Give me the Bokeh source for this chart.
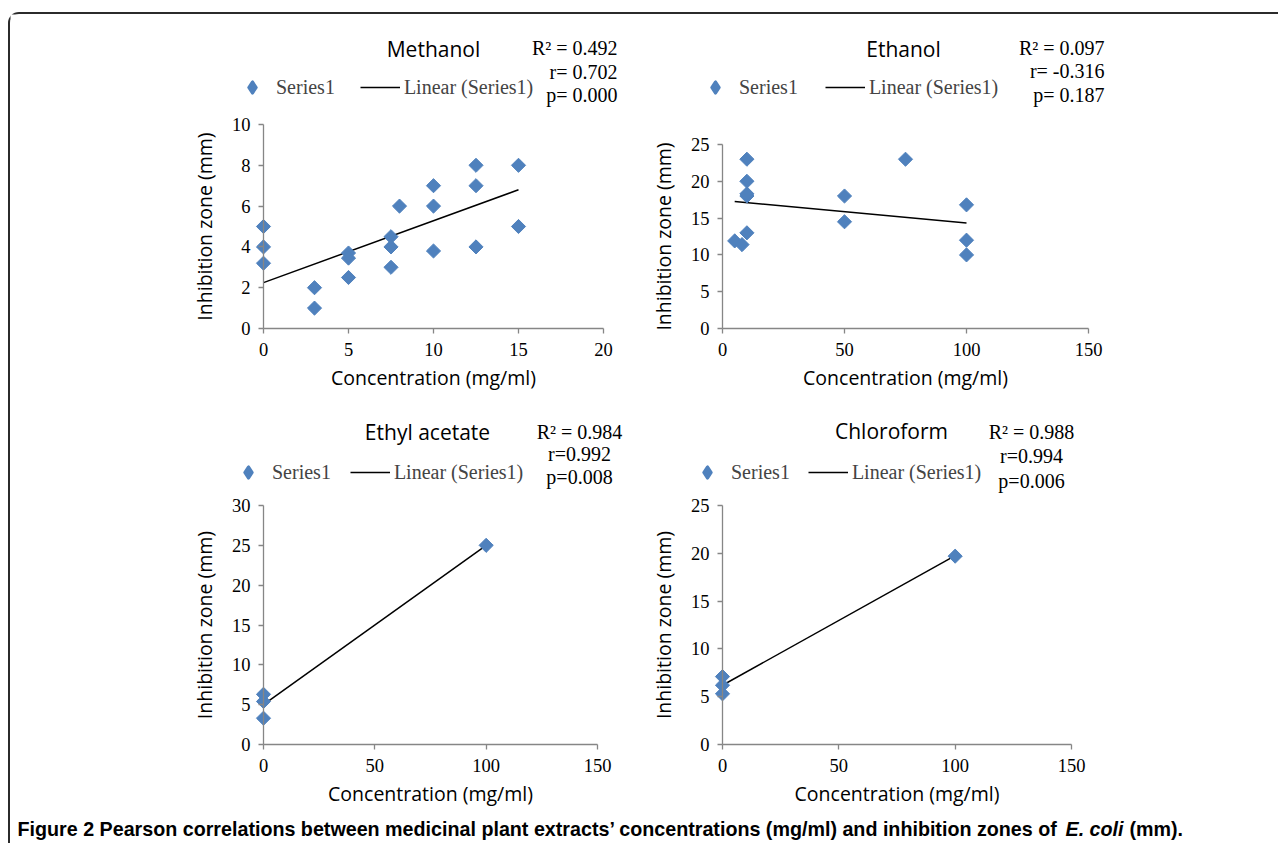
import numpy as np
from bokeh.plotting import figure
from bokeh.layouts import column, row
from bokeh.models import Range1d, FixedTicker, Label, Legend, LegendItem
from bokeh.embed import file_html
from bokeh.resources import INLINE

# ---------------- data ----------------
methanol_x = [0, 0, 0, 3, 3, 5, 5, 5, 7.5, 7.5, 7.5, 8, 10, 10, 10, 12.5, 12.5, 12.5, 15, 15]
methanol_y = [5, 4, 3.2, 2, 1, 3.7, 3.45, 2.5, 4.5, 4, 3, 6, 7, 6, 3.8, 8, 7, 4, 8, 5]
methanol_trend_x = [0, 15]
methanol_trend_y = [2.25, 6.8]
methanol_xticks = [0, 5, 10, 15, 20]
methanol_yticks = [0, 2, 4, 6, 8, 10]
methanol_stats = ["R\u00b2 = 0.492", "r= 0.702", "p= 0.000"]

ethanol_x = [5, 8, 10, 10, 10, 10, 10, 50, 50, 75, 100, 100, 100]
ethanol_y = [11.9, 11.4, 13, 18, 18.3, 20, 23, 18, 14.5, 23, 16.8, 12, 10]
ethanol_trend_x = [5, 100]
ethanol_trend_y = [17.25, 14.35]
ethanol_xticks = [0, 50, 100, 150]
ethanol_yticks = [0, 5, 10, 15, 20, 25]
ethanol_stats = ["R\u00b2 = 0.097", "r= -0.316", "p= 0.187"]

ethyl_x = [0, 0, 0, 100]
ethyl_y = [6.3, 5.4, 3.3, 25]
ethyl_trend_x = [0, 100]
ethyl_trend_y = [5.0, 25.0]
ethyl_xticks = [0, 50, 100, 150]
ethyl_yticks = [0, 5, 10, 15, 20, 25, 30]
ethyl_stats = ["R\u00b2 = 0.984", "r=0.992", "p=0.008"]

chloro_x = [0, 0, 0, 100]
chloro_y = [7.1, 6.2, 5.3, 19.7]
chloro_trend_x = [0, 100]
chloro_trend_y = [6.2, 19.75]
chloro_xticks = [0, 50, 100, 150]
chloro_yticks = [0, 5, 10, 15, 20, 25]
chloro_stats = ["R\u00b2 = 0.988", "r=0.994", "p=0.006"]

titles = ["Methanol", "Ethanol", "Ethyl acetate", "Chloroform"]
x_label = "Concentration (mg/ml)"
y_label = "Inhibition zone (mm)"
legend_labels = ["Series1", "Linear (Series1)"]
caption_main = "Figure 2 Pearson correlations between medicinal plant extracts\u2019 concentrations (mg/ml) and inhibition zones of"
caption_ital = "E. coli"
caption_end = "(mm)."

# ---------------- styles ----------------
BLUE = "#4F81BD"
AXIS = "#868686"
SERIF = "Liberation Serif"
SANS = "Open Sans"
GH = 28  # legend glyph height


def make_panel(xs, ys, tx, ty, xticks, yticks, title, stats, cfg):
    ox, oy, W, H = cfg["box"]          # canvas box on the page (frame == canvas)
    a0, a1 = cfg["xpix"]               # page x of x=0 and x=xmax
    b0, b1 = cfg["ypix"]               # page y of y=0 and y=ymax
    xmax, ymax = xticks[-1], yticks[-1]
    kx = (a1 - a0) / xmax
    ky = (b0 - b1) / ymax
    x0 = -(a0 - ox) / kx
    y0 = -(oy + H - b0) / ky
    p = figure(width=W, height=H, title=None,
               x_range=Range1d(x0, x0 + W / kx), y_range=Range1d(y0, y0 + H / ky),
               output_backend="svg", toolbar_location=None, min_border=0)
    p.outline_line_color = None
    p.grid.visible = False
    p.xaxis.ticker = FixedTicker(ticks=xticks)
    p.yaxis.ticker = FixedTicker(ticks=yticks)
    p.xaxis.bounds = (0, xmax)
    p.yaxis.bounds = (0, ymax)
    p.xaxis.fixed_location = 0
    p.yaxis.fixed_location = 0
    for ax in (p.xaxis, p.yaxis):
        ax.axis_line_color = AXIS
        ax.axis_line_width = 1.3
        ax.major_tick_line_color = AXIS
        ax.major_tick_line_width = 1.3
        ax.major_tick_out = 5
        ax.major_tick_in = 0
        ax.minor_tick_line_color = None
        ax.major_label_text_font = SERIF
        ax.major_label_text_font_size = "18.5px"
        ax.major_label_text_color = "black"
        ax.axis_label_text_font = SANS
        ax.axis_label_text_font_size = "19.5px"
        ax.axis_label_text_font_style = "normal"
        ax.axis_label_text_color = "black"
    p.xaxis.axis_label = x_label
    p.yaxis.axis_label = y_label
    p.xaxis.major_label_standoff = 9
    p.yaxis.major_label_standoff = 8
    p.xaxis.axis_label_standoff = 5
    p.yaxis.axis_label_standoff = 11

    line_r = p.line(tx, ty, line_color="black", line_width=1.5)
    p.scatter(xs, ys, marker="square", angle=np.pi / 4, size=10,
              fill_color=BLUE, line_color=BLUE)
    # zero-size copy of the series used only as the legend key
    # (legend keys are always drawn unrotated, so a diamond marker is used there)
    key_r = p.scatter(xs, ys, marker="diamond", size=0, fill_color=BLUE,
                      line_color=BLUE, line_width=3, line_join="round")

    def sx(px):
        return px - ox

    def sy(py):
        return oy + H - py

    lx, lcy = cfg["leg"]
    leg = Legend(items=[LegendItem(label=legend_labels[0], renderers=[key_r]),
                        LegendItem(label=legend_labels[1], renderers=[line_r])],
                 location=(sx(lx), sy(lcy + GH / 2)), orientation="horizontal",
                 glyph_width=40, glyph_height=GH, label_standoff=4,
                 spacing=cfg["spacing"], padding=0, margin=0,
                 border_line_color=None, background_fill_alpha=0,
                 label_text_font=SERIF, label_text_font_size="20px",
                 label_height=20)
    p.add_layout(leg)

    tpx, tpy = cfg["title"]
    p.add_layout(Label(x=sx(tpx), y=sy(tpy), x_units="screen", y_units="screen", text=title,
                       text_font=SANS, text_font_size="21px", text_align="center",
                       text_baseline="middle", text_color="black"))
    for s, py in zip(stats, cfg["stats_y"]):
        p.add_layout(Label(x=sx(cfg["stats_x"]), y=sy(py), x_units="screen", y_units="screen",
                           text=s, text_font=SERIF, text_font_size="20px",
                           text_align=cfg["stats_align"], text_baseline="middle",
                           text_color="black"))
    return p


cfg_meth = dict(box=(10, 14, 620, 386), xpix=(263, 603), ypix=(328, 124),
                leg=(232, 87), spacing=25, title=(433, 48),
                stats_x=617, stats_y=[47, 71.5, 94], stats_align="right")
cfg_eth = dict(box=(630, 14, 639, 386), xpix=(722, 1088), ypix=(328, 144),
               leg=(695, 87), spacing=27, title=(903, 48),
               stats_x=1104, stats_y=[47, 70.5, 94], stats_align="right")
cfg_ea = dict(box=(10, 400, 620, 406), xpix=(263, 597), ypix=(744, 505),
              leg=(228, 472), spacing=19, title=(427, 431),
              stats_x=579, stats_y=[431.5, 453, 476.5], stats_align="center")
cfg_ch = dict(box=(630, 400, 639, 406), xpix=(722, 1071), ypix=(744, 505),
              leg=(687, 472), spacing=18, title=(891, 430),
              stats_x=1031, stats_y=[431.5, 455, 480], stats_align="center")

p1 = make_panel(methanol_x, methanol_y, methanol_trend_x, methanol_trend_y,
                methanol_xticks, methanol_yticks, titles[0], methanol_stats, cfg_meth)
p2 = make_panel(ethanol_x, ethanol_y, ethanol_trend_x, ethanol_trend_y,
                ethanol_xticks, ethanol_yticks, titles[1], ethanol_stats, cfg_eth)
p3 = make_panel(ethyl_x, ethyl_y, ethyl_trend_x, ethyl_trend_y,
                ethyl_xticks, ethyl_yticks, titles[2], ethyl_stats, cfg_ea)
p4 = make_panel(chloro_x, chloro_y, chloro_trend_x, chloro_trend_y,
                chloro_xticks, chloro_yticks, titles[3], chloro_stats, cfg_ch)

cap = figure(width=1259, height=34, title=None, x_range=Range1d(0, 1), y_range=Range1d(0, 1),
             output_backend="svg", toolbar_location=None, x_axis_type=None, y_axis_type=None,
             min_border=0)
cap.outline_line_color = None
cap.grid.visible = False
CAP_FONT = "Liberation Sans"
CAP_SIZE = "19.7px"
cap.add_layout(Label(x=7, y=12, x_units="screen", y_units="screen", text=caption_main,
                     text_font=CAP_FONT, text_font_size=CAP_SIZE, text_font_style="bold",
                     text_baseline="middle", text_color="black"))
cap.add_layout(Label(x=1055, y=12, x_units="screen", y_units="screen", text=caption_ital,
                     text_font=CAP_FONT, text_font_size=CAP_SIZE, text_font_style="bold italic",
                     text_baseline="middle", text_color="black"))
cap.add_layout(Label(x=1119, y=12, x_units="screen", y_units="screen", text=caption_end,
                     text_font=CAP_FONT, text_font_size=CAP_SIZE, text_font_style="bold",
                     text_baseline="middle", text_color="black"))

layout = column(row(p1, p2), row(p3, p4), cap,
                styles={"border-top": "2px solid #2b2b2b", "border-left": "2px solid #2b2b2b",
                        "border-top-left-radius": "11px", "margin-top": "12px",
                        "margin-left": "8px", "padding-right": "9px", "padding-bottom": "3px"})

open("out.html", "w").write(file_html(layout, INLINE))
